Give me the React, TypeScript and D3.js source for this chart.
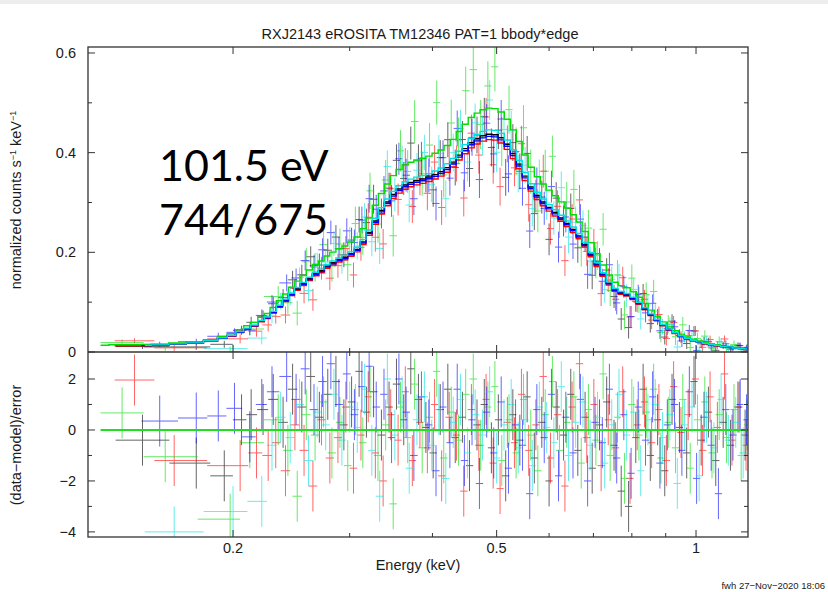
import React from "react";
import * as d3 from "d3";

type Pt = [number, number];

const titleText = "RXJ2143 eROSITA TM12346 PAT=1 bbody*edge";
const xLabel = "Energy (keV)";
const yLabelBottom = "(data\u2212model)/error";
const footerText = "fwh 27\u2212Nov\u22122020 18:06";
const annotationLines = ["101.5 eV", "744/675"];

const xMajorTicks = [0.2, 0.5, 1];
const xMajorLabels = ["0.2", "0.5", "1"];
const xMinorTicks = [0.3, 0.4, 0.6, 0.7, 0.8, 0.9];
const topMajorTicks = [0, 0.2, 0.4, 0.6];
const topTickLabels = ["0", "0.2", "0.4", "0.6"];
const topMinorTicks = [0.1, 0.3, 0.5];
const botMajorTicks = [-4, -2, 0, 2];
const botTickLabels = ["\u22124", "\u22122", "0", "2"];
const botMinorTicks = [-3, -1, 1];

// model grid (keV), model level (TM1) and 1-sigma error level
const modelEnergy = [
  0.125, 0.135, 0.146, 0.155, 0.165, 0.175, 0.186, 0.193, 0.199, 0.205,
  0.21, 0.215, 0.221, 0.225, 0.23, 0.235, 0.24, 0.245, 0.25, 0.255,
  0.261, 0.266, 0.272, 0.277, 0.283, 0.289, 0.295, 0.301, 0.308, 0.314,
  0.321, 0.328, 0.335, 0.342, 0.349, 0.356, 0.364, 0.371, 0.379, 0.387,
  0.395, 0.404, 0.412, 0.421, 0.43, 0.439, 0.448, 0.458, 0.467, 0.477,
  0.487, 0.497, 0.508, 0.519, 0.53, 0.541, 0.552, 0.564, 0.576, 0.588,
  0.6, 0.613, 0.626, 0.639, 0.653, 0.666, 0.68, 0.695, 0.709, 0.724,
  0.74, 0.755, 0.771, 0.787, 0.804, 0.821, 0.838, 0.856, 0.874, 0.892,
  0.911, 0.931, 0.95, 0.97, 0.991, 1.012, 1.033, 1.055, 1.077, 1.1,
  1.123, 1.146, 1.171, 1.195,
];
const modelBase = [
  0.012, 0.013, 0.013, 0.014, 0.016, 0.018, 0.022, 0.028, 0.033, 0.04,
  0.047, 0.053, 0.062, 0.069, 0.08, 0.092, 0.104, 0.116, 0.127, 0.137,
  0.147, 0.157, 0.163, 0.172, 0.179, 0.185, 0.19, 0.197, 0.206, 0.221,
  0.24, 0.263, 0.284, 0.301, 0.316, 0.327, 0.335, 0.34, 0.344, 0.347,
  0.351, 0.356, 0.362, 0.37, 0.381, 0.395, 0.408, 0.42, 0.428, 0.434,
  0.437, 0.436, 0.43, 0.417, 0.398, 0.377, 0.353, 0.331, 0.314, 0.301,
  0.29, 0.28, 0.269, 0.258, 0.246, 0.233, 0.216, 0.196, 0.176, 0.156,
  0.138, 0.125, 0.119, 0.115, 0.108, 0.098, 0.087, 0.075, 0.064, 0.054,
  0.045, 0.038, 0.032, 0.027, 0.023, 0.02, 0.017, 0.015, 0.013, 0.011,
  0.01, 0.008, 0.007, 0.006,
];
const sigmaBase = [
  0.005, 0.005, 0.005, 0.005, 0.006, 0.006, 0.007, 0.007, 0.008, 0.009,
  0.01, 0.011, 0.012, 0.013, 0.014, 0.016, 0.017, 0.018, 0.019, 0.02,
  0.021, 0.022, 0.023, 0.023, 0.024, 0.024, 0.025, 0.025, 0.026, 0.027,
  0.028, 0.029, 0.03, 0.031, 0.032, 0.032, 0.033, 0.033, 0.033, 0.034,
  0.034, 0.034, 0.035, 0.035, 0.036, 0.036, 0.037, 0.037, 0.037, 0.038,
  0.038, 0.038, 0.038, 0.037, 0.037, 0.036, 0.035, 0.034, 0.033, 0.033,
  0.032, 0.032, 0.031, 0.031, 0.03, 0.03, 0.029, 0.028, 0.027, 0.025,
  0.024, 0.023, 0.022, 0.022, 0.021, 0.02, 0.019, 0.018, 0.016, 0.015,
  0.014, 0.013, 0.012, 0.011, 0.01, 0.009, 0.009, 0.008, 0.008, 0.007,
  0.007, 0.006, 0.006, 0.006,
];

// [energy keV, residual (data-model)/error]
const tm1Black: Pt[] = [
  [0.146, -0.4], [0.176, -1.3], [0.194, -1.8], [0.206, 0.4], [0.213, 0.6], [0.222, 0.8],
  [0.23, 1.2], [0.238, 0.3], [0.246, 1.6], [0.254, 0.9], [0.262, 2.1], [0.27, 0.5], [0.278, 1.4], [0.286, 1.9], [0.294, 0.2], [0.302, 1.1],
  [0.31, 2.3], [0.318, 0.7], [0.326, 1.5], [0.335, -0.2], [0.344, 0.9], [0.353, 1.8], [0.362, 0.4], [0.371, 2.4], [0.381, 1.2], [0.391, 0.1],
  [0.401, -0.9], [0.411, 0.8], [0.422, 1.6], [0.433, -0.3], [0.444, 0.5], [0.455, -1.4], [0.467, 0.2], [0.479, 1.0], [0.491, -0.7], [0.503, 0.4],
  [0.516, -1.8], [0.529, 0.6], [0.542, -0.4], [0.556, 1.3], [0.57, -1.1], [0.585, 0.3], [0.6, -2.0], [0.615, 0.9], [0.631, -0.2], [0.647, 1.4],
  [0.663, -0.8], [0.68, 0.5], [0.697, -1.5], [0.715, 0.2], [0.733, 1.1], [0.752, -0.6], [0.771, -2.4], [0.791, -3.0], [0.811, -0.3], [0.832, 1.6],
  [0.853, -1.0], [0.875, 0.4], [0.897, -1.6], [0.92, 1.2], [0.944, 0.1], [0.968, -0.9], [0.993, 1.9], [1.018, -0.4], [1.044, 0.7], [1.071, -1.2],
  [1.099, 0.3], [1.127, -0.6], [1.157, 0.9], [1.186, -0.2],
];
const tm2Red: Pt[] = [
  [0.142, 1.96], [0.163, -1.2], [0.205, -1.4], [0.217, -0.9], [0.226, -1.0],
  [0.232, -0.5], [0.24, -1.6], [0.248, 0.2], [0.256, -0.8], [0.264, -2.2], [0.272, 0.4], [0.28, -1.1], [0.288, -0.3], [0.296, 0.9], [0.304, -1.5],
  [0.312, -0.2], [0.32, 1.3], [0.328, -0.9], [0.337, -2.0], [0.346, 0.6], [0.355, -0.4], [0.364, 1.5], [0.373, -1.2], [0.383, 0.3], [0.393, -0.7],
  [0.403, 1.0], [0.413, -1.8], [0.424, 0.5], [0.435, -0.2], [0.446, -2.4], [0.458, 0.8], [0.47, -0.6], [0.482, 1.2], [0.494, -1.3], [0.506, -2.3],
  [0.519, 0.3], [0.532, -0.5], [0.545, 1.4], [0.559, -0.8], [0.573, 0.2], [0.588, 2.1], [0.603, -1.1], [0.618, 0.6], [0.634, -2.2], [0.65, 0.9],
  [0.667, 2.6], [0.684, -0.3], [0.701, 1.0], [0.719, -1.4], [0.737, 0.4], [0.756, -0.7], [0.775, 1.5], [0.795, -1.9], [0.815, 0.2], [0.836, 1.1],
  [0.857, -0.5], [0.879, 0.8], [0.902, -1.2], [0.925, 1.7], [0.949, -0.1], [0.973, 0.6], [0.998, 2.0], [1.023, -0.8], [1.05, 1.3], [1.077, 0.1],
  [1.104, 2.2], [1.133, -0.4], [1.162, 0.9], [1.19, -0.6],
];
const tm3Green: Pt[] = [
  [0.136, 0.67], [0.158, -1.05], [0.198, -3.5], [0.212, -0.5],
  [0.234, 0.4], [0.242, -0.8], [0.25, -2.6], [0.258, 0.6], [0.266, -0.2], [0.274, 1.1], [0.282, -0.9], [0.29, 0.3], [0.298, -1.4], [0.306, 0.8],
  [0.314, -0.5], [0.322, 1.5], [0.331, -1.0], [0.34, 0.2], [0.349, -2.9], [0.358, 0.9], [0.367, -0.3], [0.376, 1.8], [0.386, -0.7], [0.396, 0.5],
  [0.406, 2.3], [0.416, -1.1], [0.427, 0.7], [0.438, -0.4], [0.449, 1.4], [0.461, 2.0], [0.473, -0.6], [0.485, 0.9], [0.497, 1.7], [0.509, -1.2],
  [0.522, 0.4], [0.535, -0.9], [0.549, 1.2], [0.563, -0.2], [0.577, -1.6], [0.592, 0.6], [0.607, 1.9], [0.622, -0.8], [0.638, 0.3], [0.654, 1.3],
  [0.671, -1.3], [0.688, 0.8], [0.706, -0.4], [0.724, 2.2], [0.742, -1.0], [0.761, 0.5], [0.78, -1.9], [0.8, 1.0], [0.82, -0.2], [0.841, 0.7],
  [0.863, 1.6], [0.885, -1.1], [0.908, 0.3], [0.931, -0.7], [0.955, 1.2], [0.98, -1.5], [1.005, 0.4], [1.031, 1.1], [1.057, -0.9], [1.084, 0.6],
  [1.112, -0.3], [1.141, 0.8], [1.17, -1.0], [1.194, 0.2],
];
const tm4Blue: Pt[] = [
  [0.155, 0.35], [0.176, 0.47], [0.19, 0.55], [0.201, 0.85], [0.212, -0.27], [0.221, 1.0], [0.229, 1.5], [0.241, 2.1],
  [0.249, 1.2], [0.257, 2.4], [0.265, 0.8], [0.273, 1.9], [0.281, 2.6], [0.289, 1.0], [0.297, 2.2], [0.305, 0.6], [0.313, 1.7], [0.321, 2.5],
  [0.329, 0.9], [0.338, 1.4], [0.347, -0.3], [0.356, 2.0], [0.365, 0.7], [0.375, -1.0], [0.385, 1.3], [0.395, 0.2], [0.405, -1.6], [0.415, 0.9],
  [0.425, -0.5], [0.436, 1.6], [0.447, -1.2], [0.459, 0.4], [0.471, -2.1], [0.483, 0.7], [0.495, -0.9], [0.508, 1.1], [0.521, -1.5], [0.534, 0.2],
  [0.547, -0.6], [0.561, -2.5], [0.575, 0.8], [0.59, -0.3], [0.605, 1.4], [0.62, -1.8], [0.636, 0.5], [0.652, -0.9], [0.669, 1.2], [0.686, -2.0],
  [0.704, 0.3], [0.722, -0.5], [0.74, 1.6], [0.759, -1.1], [0.778, 0.6], [0.798, -1.7], [0.818, 0.9], [0.839, -0.4], [0.86, 1.3], [0.882, -1.3],
  [0.905, 0.2], [0.928, 1.0], [0.952, -0.8], [0.977, 1.5], [1.002, -1.9], [1.028, 0.5], [1.054, -0.6], [1.081, -2.5], [1.109, 0.8], [1.137, -0.2],
  [1.166, 1.0], [1.192, 0.4],
];
const tm6Cyan: Pt[] = [
  [0.163, -4.0], [0.2, -3.2], [0.221, -2.8], [0.229, -0.6],
  [0.236, 0.5], [0.244, -0.3], [0.252, 1.0], [0.26, -1.2], [0.268, 0.7], [0.276, 0.2], [0.284, 1.4], [0.292, -0.4], [0.3, 0.9], [0.308, 0.1],
  [0.316, 1.6], [0.324, -0.8], [0.333, -2.6], [0.342, 2.0], [0.351, -0.2], [0.36, 1.1], [0.369, -1.5], [0.379, 0.4], [0.389, 1.3], [0.399, -0.6],
  [0.409, 0.8], [0.419, -1.9], [0.43, 0.3], [0.441, 1.2], [0.452, -0.9], [0.464, 0.6], [0.476, -0.2], [0.488, 1.5], [0.5, -1.1], [0.513, 0.2],
  [0.526, 1.0], [0.539, -0.7], [0.552, 0.4], [0.566, -1.4], [0.58, 0.9], [0.595, 0.1], [0.61, -0.5], [0.626, 1.7], [0.642, -1.0], [0.658, 0.3],
  [0.675, 1.1], [0.692, -0.6], [0.71, 0.5], [0.728, -1.3], [0.746, 0.2], [0.765, 1.4], [0.785, -0.2], [0.805, 0.7], [0.825, -1.6], [0.846, 0.4],
  [0.868, 1.0], [0.89, -0.3], [0.913, 0.6], [0.937, -2.1], [0.961, 0.2], [0.986, 0.9], [1.011, -1.8], [1.037, 0.5], [1.064, -0.7], [1.091, 1.2],
  [1.119, -0.4], [1.148, 0.3], [1.178, -0.9],
];

const seriesData = [tm1Black, tm2Red, tm3Green, tm4Blue, tm6Cyan];
const seriesColors = ["#000000", "#ff0000", "#00dd00", "#0000ff", "#00e0e0"];
const seriesNorms = [1.0, 0.975, 1.12, 0.99, 1.02];
const seriesErrScale = [1.0, 1.0, 1.3, 1.0, 1.05];

const FONT = "'Liberation Sans', Arial, Helvetica, sans-serif";

export default function App() {
  const L = 88, R = 748, T = 47, M = 352, B = 537;
  const xDomain: [number, number] = [0.1208, 1.198];
  const x = d3.scaleLog().domain(xDomain).range([L, R]);
  const yT = d3.scaleLinear().domain([0, 0.612]).range([M, T]);
  const yB = d3.scaleLinear().domain([-4.2, 3.06]).range([B, M]);

  const n = modelEnergy.length;
  const gridEdges = d3.range(n + 1).map((i) => {
    if (i === 0) return modelEnergy[0] / Math.sqrt(modelEnergy[1] / modelEnergy[0]);
    if (i === n) return modelEnergy[n - 1] * Math.sqrt(modelEnergy[n - 1] / modelEnergy[n - 2]);
    return Math.sqrt(modelEnergy[i - 1] * modelEnergy[i]);
  });
  const nearest = (e: number) => {
    let best = 0, bd = Infinity;
    modelEnergy.forEach((g, i) => {
      const d = Math.abs(Math.log(e / g));
      if (d < bd) { bd = d; best = i; }
    });
    return best;
  };

  const sets = seriesData.map((pts, k) => {
    const m = pts.length;
    const bins = pts.map(([e, r], i) => {
      const lo = i > 0 ? Math.sqrt(pts[i - 1][0] * e) : e / Math.sqrt(pts[1][0] / e);
      const hi = i < m - 1 ? Math.sqrt(e * pts[i + 1][0]) : e * Math.sqrt(e / pts[m - 2][0]);
      const j = nearest(e);
      const mod = modelBase[j] * seriesNorms[k];
      const sig = sigmaBase[j] * seriesErrScale[k];
      return { e, lo, hi, r, val: mod + r * sig, sig };
    });
    const start = bins[0].lo;
    let i0 = 0;
    while (i0 < n - 1 && gridEdges[i0 + 1] <= start) i0++;
    const mpts: [number, number][] = [[start, modelBase[i0] * seriesNorms[k]]];
    for (let i = i0 + 1; i < n; i++) mpts.push([gridEdges[i], modelBase[i] * seriesNorms[k]]);
    mpts.push([gridEdges[n], modelBase[n - 1] * seriesNorms[k]]);
    const line = d3
      .line<[number, number]>()
      .x((d) => x(d[0]))
      .y((d) => yT(d[1]))
      .curve(d3.curveStepAfter);
    return { bins, modelPath: line(mpts) || "", color: seriesColors[k], start };
  });

  const greenStart = sets[2].start;
  const frame = "#333333";
  const textCol = "#1a1a1a";

  const xTicks = (y0: number, dir: number, key: string) => (
    <g key={key}>
      {xMajorTicks.map((t) => (
        <line key={"M" + t} x1={x(t)} x2={x(t)} y1={y0} y2={y0 + dir * 7} stroke={frame} strokeWidth={1} />
      ))}
      {xMinorTicks.map((t) => (
        <line key={"m" + t} x1={x(t)} x2={x(t)} y1={y0} y2={y0 + dir * 4} stroke={frame} strokeWidth={1} />
      ))}
    </g>
  );

  const yTicks = (scale: any, major: number[], minor: number[], key: string) => (
    <g key={key}>
      {major.map((t) => (
        <g key={"M" + t}>
          <line x1={L} x2={L + 7} y1={scale(t)} y2={scale(t)} stroke={frame} strokeWidth={1} />
          <line x1={R} x2={R - 7} y1={scale(t)} y2={scale(t)} stroke={frame} strokeWidth={1} />
        </g>
      ))}
      {minor.map((t) => (
        <g key={"m" + t}>
          <line x1={L} x2={L + 4} y1={scale(t)} y2={scale(t)} stroke={frame} strokeWidth={1} />
          <line x1={R} x2={R - 4} y1={scale(t)} y2={scale(t)} stroke={frame} strokeWidth={1} />
        </g>
      ))}
    </g>
  );

  return (
    <svg
      width={828}
      height={592}
      viewBox="0 0 828 592"
      style={{ position: "absolute", left: 0, top: 0, background: "#ffffff" }}
    >
      <defs>
        <clipPath id="clipTop">
          <rect x={L} y={T} width={R - L} height={M - T} />
        </clipPath>
        <clipPath id="clipBot">
          <rect x={L} y={M} width={R - L} height={B - M} />
        </clipPath>
      </defs>
      <rect x={0} y={0} width={828} height={592} fill="#ffffff" />
      <rect x={0} y={0} width={828} height={4} fill="#ededed" />

      <text x={420} y={39} textAnchor="middle" fontFamily={FONT} fontSize={14.5} fill={textCol}>
        {titleText}
      </text>

      {/* top panel */}
      <g clipPath="url(#clipTop)">
        {sets.map((s, k) => (
          <g key={"d" + k} stroke={s.color} strokeWidth={1} opacity={0.6}>
            {s.bins.map((b, i) => (
              <g key={i}>
                <line x1={x(b.lo)} x2={x(b.hi)} y1={yT(b.val)} y2={yT(b.val)} />
                <line x1={x(b.e)} x2={x(b.e)} y1={yT(b.val - b.sig)} y2={yT(b.val + b.sig)} />
              </g>
            ))}
          </g>
        ))}
        {sets.map((s, k) => (
          <path key={"m" + k} d={s.modelPath} fill="none" stroke={s.color} strokeWidth={1.4} />
        ))}
      </g>

      {/* bottom panel */}
      <g clipPath="url(#clipBot)">
        {sets.map((s, k) => (
          <g key={"r" + k} stroke={s.color} strokeWidth={1} opacity={0.6}>
            {s.bins.map((b, i) => (
              <g key={i}>
                <line x1={x(b.lo)} x2={x(b.hi)} y1={yB(b.r)} y2={yB(b.r)} />
                <line x1={x(b.e)} x2={x(b.e)} y1={yB(b.r - 1)} y2={yB(b.r + 1)} />
              </g>
            ))}
          </g>
        ))}
        <line x1={x(greenStart)} x2={R} y1={yB(0)} y2={yB(0)} stroke="#22dd22" strokeWidth={2} />
      </g>

      {/* frames */}
      <rect x={L} y={T} width={R - L} height={B - T} fill="none" stroke={frame} strokeWidth={1.3} />
      <line x1={L} x2={R} y1={M} y2={M} stroke={frame} strokeWidth={1.3} />

      {xTicks(T, 1, "xt1")}
      {xTicks(M, -1, "xt2")}
      {xTicks(M, 1, "xt3")}
      {xTicks(B, -1, "xt4")}
      {yTicks(yT, topMajorTicks, topMinorTicks, "yt")}
      {yTicks(yB, botMajorTicks, botMinorTicks, "yb")}

      {topMajorTicks.map((t, i) => (
        <text key={"tl" + t} x={76} y={yT(t) + 5} textAnchor="end" fontFamily={FONT} fontSize={14.5} fill={textCol}>
          {topTickLabels[i]}
        </text>
      ))}
      {botMajorTicks.map((t, i) => (
        <text key={"bl" + t} x={76} y={yB(t) + 5} textAnchor="end" fontFamily={FONT} fontSize={14.5} fill={textCol}>
          {botTickLabels[i]}
        </text>
      ))}
      {xMajorTicks.map((t, i) => (
        <text key={"xl" + t} x={x(t)} y={553} textAnchor="middle" fontFamily={FONT} fontSize={14.5} fill={textCol}>
          {xMajorLabels[i]}
        </text>
      ))}

      <text x={418} y={570} textAnchor="middle" fontFamily={FONT} fontSize={14.5} fill={textCol}>
        {xLabel}
      </text>
      <text transform="translate(21,200) rotate(-90)" textAnchor="middle" fontFamily={FONT} fontSize={14.5} fill={textCol}>
        normalized counts s
        <tspan fontSize={9} dy={-5}>{"\u22121"}</tspan>
        <tspan dy={5}> keV</tspan>
        <tspan fontSize={9} dy={-5}>{"\u22121"}</tspan>
      </text>
      <text transform="translate(21,445) rotate(-90)" textAnchor="middle" fontFamily={FONT} fontSize={14.5} fill={textCol}>
        {yLabelBottom}
      </text>

      <text x={825} y={589} textAnchor="end" fontFamily={FONT} fontSize={9.5} fill={textCol}>
        {footerText}
      </text>

      <text x={159} y={181} fontFamily="Lato, 'Open Sans', sans-serif" fontSize={43} fill="#000000">
        {annotationLines[0]}
      </text>
      <text x={159} y={235} fontFamily="Lato, 'Open Sans', sans-serif" fontSize={43} fill="#000000">
        {annotationLines[1]}
      </text>
    </svg>
  );
}
